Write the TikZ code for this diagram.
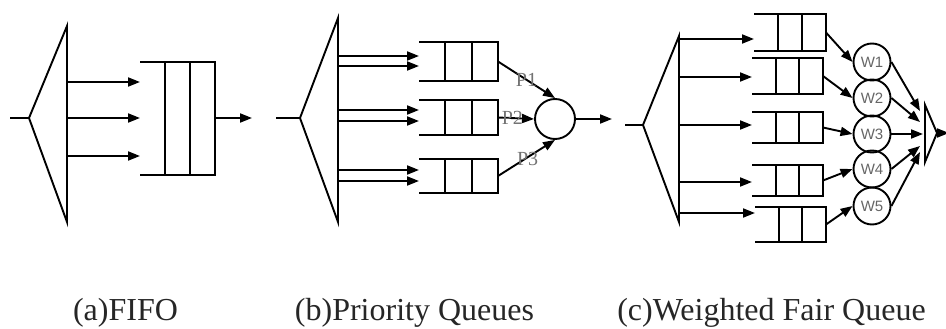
\documentclass[tikz,border=0pt]{standalone}
\usepackage{fontspec}
\setmainfont{Liberation Serif}
\newfontfamily\wfont{Liberation Sans}
\usetikzlibrary{arrows.meta,calc}

\tikzset{
  arr/.style={-{Triangle[length=12pt,width=9pt]}},
  queue/.style={inner sep=0pt, outer sep=0pt, minimum width=#1},
  wcirc/.style={circle, draw, minimum size=37pt, inner sep=0pt,
    font=\wfont\fontsize{15}{15}\selectfont, text=black!60},
  plabel/.style={font=\fontsize{20}{20}\selectfont, text=black!55, inner sep=0pt},
  caption/.style={anchor=base, font=\fontsize{32}{32}\selectfont, text=black!85}
}

\begin{document}
\begin{tikzpicture}[x=1pt, y=-1pt, line width=1.9pt]

  \useasboundingbox (0,0) rectangle (946,329);

  % queues
  \node[queue=75pt, minimum height=113pt] (qa)  at (177.5,118.5) {};
  \node[queue=79pt, minimum height=39pt]  (qb1) at (458.5,61.5)  {};
  \node[queue=79pt, minimum height=35pt]  (qb2) at (458.5,117.5) {};
  \node[queue=79pt, minimum height=34pt]  (qb3) at (458.5,176)   {};
  \node[queue=72pt, minimum height=37pt]  (qc1) at (790,32.5)    {};
  \node[queue=71pt, minimum height=36pt]  (qc2) at (787.5,76)    {};
  \node[queue=71pt, minimum height=31pt]  (qc3) at (787.5,127.5) {};
  \node[queue=71pt, minimum height=31pt]  (qc4) at (787.5,180.5) {};
  \node[queue=71pt, minimum height=35pt]  (qc5) at (790.5,224.5) {};

  \foreach \q in {qa,qb1,qb2,qb3,qc1,qc2,qc3,qc4,qc5}{
    \draw (\q.north west) -- (\q.north east) -- (\q.south east) -- (\q.south west);
    \draw ($(\q.north west)!1/3!(\q.north east)$) -- ($(\q.south west)!1/3!(\q.south east)$);
    \draw ($(\q.north west)!2/3!(\q.north east)$) -- ($(\q.south west)!2/3!(\q.south east)$);
  }

  % (a) FIFO
  \draw (10,118) -- (29,118) -- (67,26) -- (67,222) -- (29,118);
  \coordinate (a1) at (67,82);
  \coordinate (a2) at (67,118);
  \coordinate (a3) at (67,156);
  \coordinate (outa) at (252,118);
  \foreach \p in {a1,a2,a3}
    \draw[arr] (\p) -- (\p -| qa.west);
  \draw[arr] (qa.east |- outa) -- (outa);

  % (b) priority queues
  \draw (276,118) -- (300,118) -- (338,18) -- (338,222) -- (300,118);
  \node[circle, draw, minimum size=40pt, inner sep=0pt] (pc) at (555,119) {};
  \coordinate (b1) at (338,56);
  \coordinate (b2) at (338,66);
  \coordinate (b3) at (338,110);
  \coordinate (b4) at (338,121);
  \coordinate (b5) at (338,170);
  \coordinate (b6) at (338,181);
  \coordinate (outb) at (612,119);
  \foreach \p/\q in {b1/qb1,b2/qb1,b3/qb2,b4/qb2,b5/qb3,b6/qb3}
    \draw[arr] (\p) -- (\p -| \q.west);
  \draw[arr] (qb1.east) -- node[plabel] {P1} (pc.north);
  \draw[arr] (qb2.east) -- node[plabel, pos=0.4] {P2} (pc.west);
  \draw[arr] (qb3.east) -- node[plabel, pos=0.52, yshift=-2pt] {P3} (pc.south);
  \draw[arr] (pc.east) -- (outb);

  % (c) weighted fair queue
  \draw (625,125) -- (643,125) -- (679,36) -- (679,222) -- (643,125);
  \coordinate (c1) at (679,39);
  \coordinate (c2) at (679,77);
  \coordinate (c3) at (679,125);
  \coordinate (c4) at (679,182);
  \coordinate (c5) at (679,213);
  \foreach \p/\q in {c1/qc1,c2/qc2,c3/qc3,c4/qc4,c5/qc5}
    \draw[arr] (\p) -- (\p -| \q.west);

  \begin{scope}[every node/.style={wcirc}]
    \node (w1) at (872,62)  {W1};
    \node (w2) at (872,98)  {W2};
    \node (w3) at (872,134) {W3};
    \node (w4) at (872,169) {W4};
    \node (w5) at (872,206) {W5};
  \end{scope}

  \foreach \i in {1,...,5}
    \draw[arr] (qc\i.east) -- (w\i.west);

  \coordinate (ttop) at (925,105);
  \coordinate (tbot) at (925,162);
  \coordinate (tapex) at (937,133);
  \coordinate (outc) at (949,133);
  \draw (ttop) -- (tapex) -- (tbot) -- cycle;

  \coordinate (t1) at (920,111);
  \coordinate (t2) at (920,122);
  \coordinate (t3) at (923,134);
  \coordinate (t4) at (920,146);
  \coordinate (t5) at (920,152);
  \foreach \i in {1,...,5}
    \draw[arr] (w\i.east) -- (t\i);
  \draw[arr] (tapex) -- (outc);

  % captions
  \node[caption] (capa) at (125.5,320) {(a)FIFO};
  \node[caption] (capb) at (414.5,320) {(b)Priority Queues};
  \node[caption] (capc) at (771.5,320) {(c)Weighted Fair Queue};

\end{tikzpicture}
\end{document}
